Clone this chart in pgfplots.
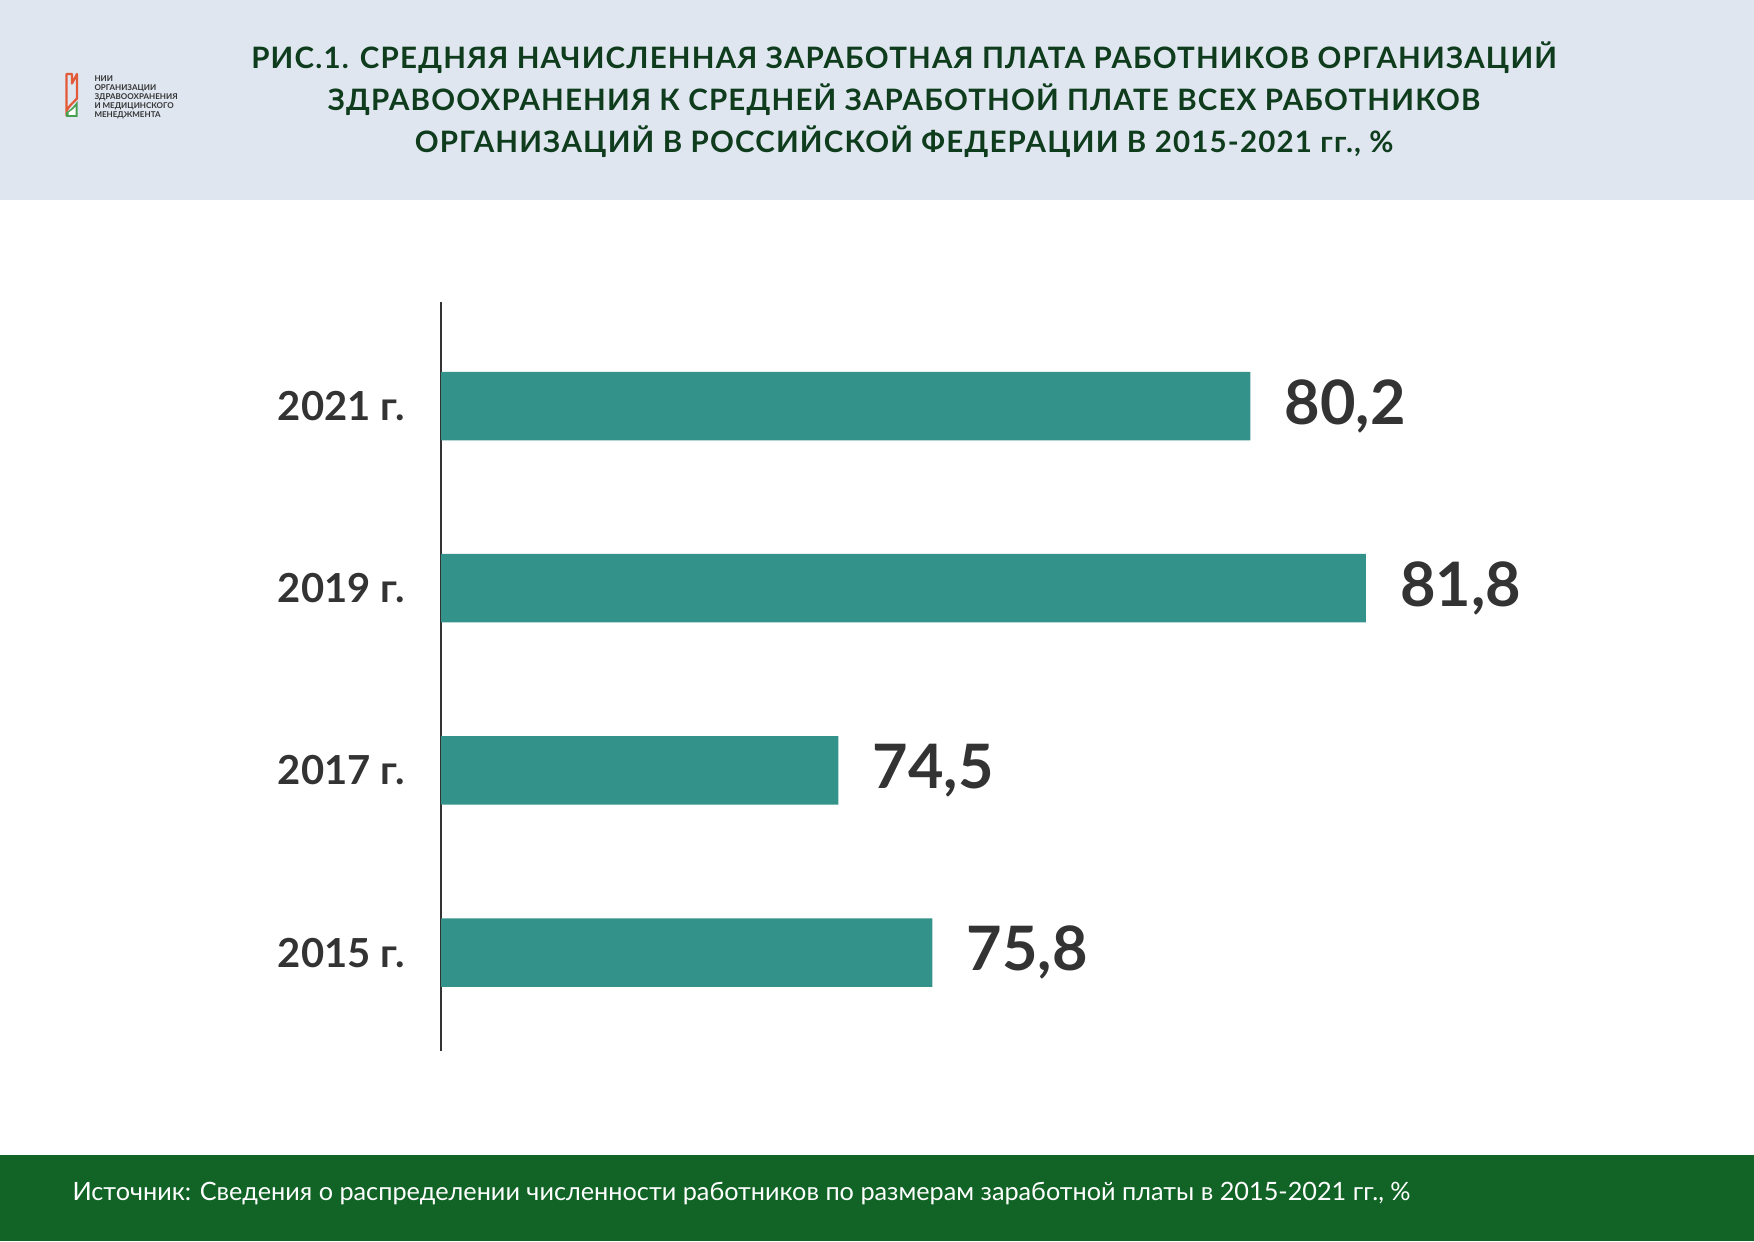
\documentclass[border=0pt]{standalone}
\usepackage{fontspec}
\setmainfont{Lato}
\newfontfamily\titlefont[LetterSpace=4]{Lato}
\usepackage{pgfplots}
\pgfplotsset{compat=1.18}
\definecolor{hdrbg}{RGB}{223,230,240}
\definecolor{ftrbg}{RGB}{17,100,38}
\definecolor{bar}{RGB}{51,146,137}
\definecolor{ttl}{RGB}{14,60,28}
\definecolor{txt}{RGB}{51,51,51}
\definecolor{logoor}{RGB}{226,90,55}
\definecolor{logogr}{RGB}{70,160,80}
\begin{document}
\begin{tikzpicture}
\useasboundingbox (0,0) rectangle (701.6pt,496.4pt);
\fill[white] (0,0) rectangle (701.6pt,496.4pt);
\fill[hdrbg] (0,416.4pt) rectangle (701.6pt,496.4pt);
\fill[ftrbg] (0,0) rectangle (701.6pt,34.4pt);
% title
\node[text=ttl,font=\titlefont\fontsize{11.8}{14}\selectfont\bfseries,inner sep=0pt] at (361.6pt,473.2pt) {РИС.1. СРЕДНЯЯ НАЧИСЛЕННАЯ ЗАРАБОТНАЯ ПЛАТА РАБОТНИКОВ ОРГАНИЗАЦИЙ};
\node[text=ttl,font=\titlefont\fontsize{11.8}{14}\selectfont\bfseries,inner sep=0pt] at (361.6pt,456.4pt) {ЗДРАВООХРАНЕНИЯ К СРЕДНЕЙ ЗАРАБОТНОЙ ПЛАТЕ ВСЕХ РАБОТНИКОВ};
\node[text=ttl,font=\titlefont\fontsize{11.8}{14}\selectfont\bfseries,inner sep=0pt] at (361.6pt,439.6pt) {ОРГАНИЗАЦИЙ В РОССИЙСКОЙ ФЕДЕРАЦИИ В 2015-2021 гг., \%};
% logo
\draw[logoor,line width=0.9pt,line join=round] (26.6pt,450pt) -- (26.6pt,466.8pt) -- (28.8pt,466.8pt) -- (28.8pt,463pt) -- (30.8pt,466.8pt) -- (30.8pt,457pt) .. controls (29pt,455pt) and (27.5pt,454pt) .. (26.6pt,452pt);
\fill[logogr] (26.4pt,449.6pt) -- (31pt,449.6pt) -- (31pt,456pt) .. controls (29pt,453pt) and (27.5pt,452pt) .. (26.4pt,451.5pt) -- cycle;
\fill[white] (27.4pt,450.4pt) -- (30.2pt,450.4pt) -- (30.2pt,453.6pt) .. controls (29pt,452.4pt) and (28.2pt,451.8pt) .. (27.4pt,451.4pt) -- cycle;
\node[anchor=west,inner sep=0pt,text=txt,font=\fontsize{3.2}{3.2}\selectfont\bfseries] at (37.6pt,464.8pt) {НИИ};
\node[anchor=west,inner sep=0pt,text=txt,font=\fontsize{3.2}{3.2}\selectfont\bfseries] at (37.6pt,461.2pt) {ОРГАНИЗАЦИИ};
\node[anchor=west,inner sep=0pt,text=txt,font=\fontsize{3.2}{3.2}\selectfont\bfseries] at (37.6pt,457.6pt) {ЗДРАВООХРАНЕНИЯ};
\node[anchor=west,inner sep=0pt,text=txt,font=\fontsize{3.2}{3.2}\selectfont\bfseries] at (37.6pt,454.0pt) {И МЕДИЦИНСКОГО};
\node[anchor=west,inner sep=0pt,text=txt,font=\fontsize{3.2}{3.2}\selectfont\bfseries] at (37.6pt,450.4pt) {МЕНЕДЖМЕНТА};
% footer
\node[anchor=west,inner sep=0pt,text=white,font=\fontsize{10.1}{12}\selectfont] at (28.8pt,18.8pt) {Источник: Сведения о распределении численности работников по размерам заработной платы в 2015-2021 гг., \%};
\begin{axis}[
  at={(176.4pt,76pt)}, anchor=south west,
  scale only axis, width=400pt, height=299.6pt,
  xmin=69, xmax=82.84, ymin=-0.54, ymax=3.571,
  xbar, bar width=27.4pt,
  axis x line=none,
  axis y line*=left,
  y axis line style={draw=txt,line width=0.8pt,-},
  ytick={0,1,2,3},
  yticklabels={2015 г.,2017 г.,2019 г.,2021 г.},
  major tick length=0pt,
  yticklabel style={font=\fontsize{16}{18}\selectfont\bfseries,text=txt,inner sep=0pt,anchor=east,xshift=-14.4pt},
  nodes near coords={\pgfmathprintnumber[fixed,fixed zerofill,precision=1,use comma,assume math mode=true]{\pgfplotspointmeta}},
  nodes near coords style={font=\fontsize{24.5}{28}\selectfont\bfseries,text=txt,anchor=west,inner sep=0pt,xshift=13.6pt},
  point meta=x,
  clip=false,
]
\addplot[fill=bar,draw=none] coordinates {(75.8,0) (74.5,1) (81.8,2) (80.2,3)};
\end{axis}
\end{tikzpicture}
\end{document}
